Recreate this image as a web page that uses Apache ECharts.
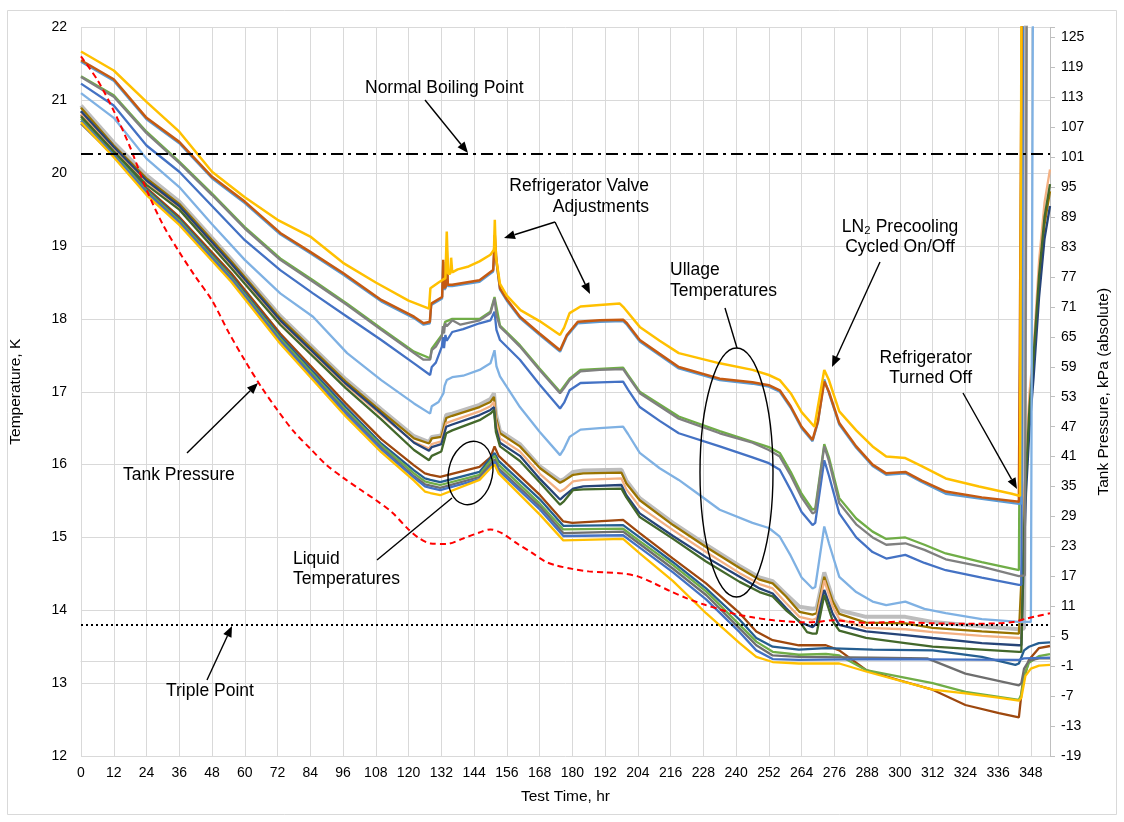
<!DOCTYPE html>
<html>
<head>
<meta charset="utf-8">
<script src="https://cdn.jsdelivr.net/npm/echarts@6/dist/echarts.min.js"></script>
<style>
html,body{margin:0;padding:0;background:#fff;}
#chart{width:1124px;height:822px;}
</style>
</head>
<body>
<div id="chart"></div>
<script>
// ---------------- DATA (hours, K / kPa) ----------------
const xAxisRange = [0, 355];
const tempRange = [12, 22];
const pressRange = [-19, 127];
const normalBoilingPointK = 20.27;
const triplePointK = 13.8;

// Ullage temperatures
const ullYellow = [[0,21.67],[12,21.41],[24,20.98],[36,20.57],[48,20.02],[60,19.67],[72,19.36],[84,19.13],[96,18.77],[108,18.50],[120,18.25],[127.5,18.14],[128,18.42],[131,18.50],[133.5,18.56],[134,19.20],[134.5,18.62],[135.3,18.62],[135.6,18.84],[136,18.64],[138,18.68],[142,18.72],[146,18.79],[150,18.88],[151.3,18.95],[151.6,19.36],[152,18.85],[153.5,18.48],[156,18.32],[161,18.12],[168,17.97],[175.5,17.78],[177,17.88],[179,18.08],[183,18.17],[190,18.19],[197.4,18.21],[199,18.15],[204.7,17.89],[212,17.70],[219,17.53],[234,17.39],[246,17.30],[252,17.23],[256,17.16],[260,16.98],[264,16.72],[268.7,16.52],[270,16.8],[272.3,17.30],[274,17.16],[277.8,16.73],[284,16.47],[290,16.25],[295,16.11],[302,16.09],[308,15.98],[316.8,15.81],[329,15.70],[341,15.60],[344,15.57],[344.6,23]];
const ullOrange = [[0,21.55],[12,21.29],[24,20.76],[36,20.43],[40,20.27],[48,19.95],[60,19.61],[73,19.18],[84,18.92],[96,18.63],[110,18.26],[122,18.03],[125.5,17.94],[127.8,17.96],[128.3,18.21],[132.3,18.30],[132.7,18.81],[133.1,18.42],[133.7,18.45],[134,18.95],[134.4,18.47],[136,18.47],[146,18.53],[151,18.67],[151.6,19.15],[152.2,18.80],[153.5,18.42],[156,18.27],[160.8,18.03],[168,17.80],[175.5,17.57],[178,17.78],[182,17.96],[190,17.98],[198.6,17.99],[200,17.94],[204.7,17.71],[212,17.52],[219,17.34],[234,17.18],[246,17.13],[252,17.09],[256,17.02],[260,16.80],[264,16.52],[268,16.34],[270,16.60],[272.3,17.14],[274,17.00],[277.8,16.57],[284,16.25],[290,16.00],[295,15.88],[302,15.90],[308,15.78],[316.8,15.63],[330,15.55],[343.6,15.49],[344.3,15.49],[344.8,23]];
const ullBlue2 = [[0,21.53],[12,21.27],[24,20.74],[36,20.41],[40,20.25],[48,19.93],[60,19.59],[73,19.16],[84,18.90],[96,18.61],[110,18.24],[122,18.01],[125.5,17.92],[127.8,17.94],[128.3,18.19],[132.3,18.28],[132.7,18.78],[133.1,18.40],[133.7,18.43],[134,18.90],[134.4,18.45],[136,18.45],[146,18.51],[151,18.65],[151.6,19.05],[152.2,18.78],[153.5,18.40],[156,18.25],[160.8,18.01],[168,17.78],[175.5,17.55],[178,17.76],[182,17.94],[190,17.96],[198.6,17.97],[200,17.92],[204.7,17.69],[212,17.50],[219,17.32],[234,17.16],[246,17.11],[252,17.07],[256,17.00],[260,16.78],[264,16.50],[268,16.32],[270,16.58],[272.3,17.17],[274,16.98],[277.8,16.55],[284,16.23],[290,15.98],[295,15.86],[302,15.88],[308,15.76],[316.8,15.60],[330,15.53],[343.6,15.46],[344.4,15.46],[344.9,23]];
const ullGreen = [[0,21.33],[12,21.07],[24,20.57],[36,20.16],[48,19.72],[60,19.26],[73,18.83],[85,18.53],[97.5,18.21],[110,17.87],[122,17.55],[127.9,17.46],[128.5,17.59],[132.2,17.78],[133.4,17.96],[136,18.00],[146,18.00],[150,18.10],[151.5,18.30],[153.5,17.91],[160.8,17.64],[168,17.32],[175.5,17.00],[179,17.18],[183,17.30],[198.6,17.33],[200.4,17.23],[204.7,17.00],[219,16.66],[234,16.46],[252,16.24],[256,16.16],[260,15.90],[264,15.60],[268,15.38],[269,15.40],[272.3,16.28],[274,16.10],[277.8,15.54],[284,15.26],[290,15.08],[295,14.98],[302,15.00],[309,14.90],[316.8,14.78],[330,14.66],[343.6,14.55],[344.3,14.56],[344.9,23]];
const ullGray = [[0,21.32],[12,21.05],[24,20.55],[36,20.14],[48,19.70],[60,19.24],[73,18.81],[85,18.51],[97.5,18.19],[110,17.85],[122,17.53],[125.5,17.44],[127.9,17.44],[128.5,17.57],[130,17.62],[132.2,17.76],[132.6,17.90],[133,17.80],[133.4,17.94],[134,17.90],[136,17.98],[139,17.92],[146,17.98],[150,18.08],[151.5,18.28],[152.2,18.05],[153.5,17.89],[156,17.80],[160.8,17.62],[168,17.30],[175.5,16.98],[177,17.05],[179,17.16],[183,17.28],[190,17.30],[198.6,17.31],[200.4,17.21],[204.7,16.98],[212,16.80],[219,16.63],[234,16.43],[246,16.30],[252,16.20],[256,16.11],[260,15.85],[264,15.55],[268,15.33],[269,15.35],[272.3,16.25],[274,16.05],[277.8,15.47],[284,15.18],[290,15.00],[295,14.90],[302,14.92],[309,14.83],[316.8,14.70],[330,14.60],[343.6,14.47],[345.8,14.48],[346.5,23]];
const ullBlue = [[0,21.23],[12,20.93],[24,20.38],[36,20.02],[48,19.55],[60,19.08],[73,18.67],[85,18.35],[97.5,18.03],[110,17.71],[122,17.39],[127.9,17.23],[128.5,17.34],[130,17.40],[132.2,17.62],[132.6,17.75],[133,17.60],[133.5,17.78],[134,17.70],[136,17.82],[140,17.86],[146,17.94],[150,17.98],[151.5,18.10],[152.2,17.85],[153.5,17.71],[160.8,17.44],[168,17.10],[175.5,16.77],[177,16.85],[179,17.02],[183,17.12],[190,17.13],[198.6,17.14],[200.4,17.03],[204.7,16.79],[212,16.60],[219,16.43],[234,16.25],[246,16.10],[252,16.02],[256,15.93],[260,15.65],[264,15.35],[268,15.17],[269,15.20],[272.3,16.06],[274,15.85],[277.8,15.33],[284,15.00],[290,14.80],[295,14.71],[302,14.76],[309,14.65],[316.8,14.55],[330,14.45],[343.6,14.35],[344.5,14.35],[345.2,23]];
const ullLtBlue = [[0,21.10],[12,20.76],[24,20.20],[36,19.81],[48,19.30],[60,18.81],[73,18.35],[85,18.03],[97.5,17.53],[110,17.16],[122,16.84],[127.9,16.70],[128.5,16.80],[131,16.86],[132.8,16.98],[133.2,17.08],[134,17.16],[136,17.20],[140,17.22],[146,17.30],[150,17.39],[151.5,17.57],[152.2,17.35],[153.5,17.21],[160.8,16.79],[168,16.45],[175.5,16.13],[177,16.22],[179,16.38],[183,16.48],[190,16.50],[198.6,16.52],[200.4,16.42],[204.7,16.16],[212,15.95],[219,15.79],[226,15.60],[234,15.38],[246,15.20],[252,15.13],[256,15.01],[260,14.75],[264,14.45],[268,14.30],[269,14.32],[272.3,15.15],[274,14.92],[277.8,14.46],[284,14.25],[290,14.12],[295,14.07],[302,14.12],[309,14.02],[316.8,13.96],[330,13.88],[343.6,13.84],[348,13.84],[348.8,23]];

// Liquid temperatures - upper group
const liqLtGray = [[0,20.93],[12,20.42],[24,19.97],[36,19.61],[55,18.82],[73,18.04],[97,17.17],[110,16.76],[122,16.39],[127.5,16.31],[128.5,16.38],[132,16.40],[133.8,16.68],[136,16.70],[146,16.82],[150,16.90],[151.3,16.98],[152,16.70],[153.5,16.46],[160.8,16.28],[168,15.98],[175.5,15.78],[177,15.80],[180.3,15.90],[184,15.92],[198,15.93],[199.8,15.78],[204.7,15.54],[216.9,15.20],[229,14.90],[241.3,14.61],[248.6,14.45],[253.4,14.40],[258.3,14.22],[263.2,14.05],[268,14.02],[269.5,14.03],[272.3,14.52],[275.4,14.16],[277.8,14.00],[287.6,13.91],[302,13.91],[312,13.84],[330,13.78],[343.6,13.74],[345.5,13.75],[346.3,23]];
const liqOlive = [[0,20.90],[12,20.38],[24,19.93],[36,19.58],[55,18.79],[73,18.01],[97,17.14],[110,16.73],[122,16.36],[127.5,16.29],[128.5,16.36],[132,16.38],[133.8,16.64],[136,16.67],[146,16.79],[150,16.86],[151.3,16.93],[152,16.65],[153.5,16.43],[160.8,16.25],[168.2,15.95],[175.5,15.75],[177,15.78],[180.3,15.86],[184,15.88],[198,15.89],[199.8,15.74],[204.7,15.51],[216.9,15.17],[229,14.87],[241.3,14.58],[248.6,14.42],[253.4,14.37],[258.3,14.19],[263.2,13.98],[268,13.94],[269.5,13.96],[272.3,14.46],[275.4,14.12],[277.8,13.95],[287.6,13.83],[302,13.82],[312,13.76],[330,13.71],[343.6,13.68],[344.3,13.68],[345,14.8],[346,15.9],[347.5,16.8],[349,17.5],[351,18.5],[353,19.3],[355,19.75]];
const liqLtOrange = [[0,20.82],[12,20.33],[24,19.88],[36,19.52],[55,18.74],[73,17.96],[97,17.09],[110,16.68],[122,16.31],[127.5,16.22],[128.5,16.28],[132,16.32],[133.8,16.57],[136,16.60],[146,16.73],[150,16.80],[151.3,16.86],[152,16.60],[153.5,16.36],[160.8,16.18],[168.2,15.87],[175.5,15.63],[177,15.66],[180.3,15.77],[184,15.79],[198,15.81],[199.8,15.66],[204.7,15.42],[216.9,15.10],[229,14.80],[241.3,14.51],[248.6,14.36],[253.4,14.30],[258.3,14.10],[263.2,13.91],[268,13.87],[269.5,13.89],[272.3,14.41],[275.4,14.05],[277.8,13.88],[287.6,13.76],[302,13.74],[312,13.70],[330,13.65],[343.6,13.62],[344.5,13.62],[345.2,14.9],[346,15.9],[347.5,17.0],[349,17.6],[351,18.8],[353,19.6],[355,20.05]];
const liqDkBlueA = [[0,20.85],[12,20.36],[24,19.90],[36,19.55],[55,18.76],[73,17.98],[97,17.11],[110,16.70],[122,16.30],[127.5,16.19],[128.5,16.24],[132,16.28],[133.8,16.52],[136,16.55],[146,16.68],[150,16.75],[151.3,16.79],[152,16.50],[153.5,16.30],[160.8,16.12],[168.2,15.80],[175.5,15.52],[177,15.57],[180.3,15.67],[184,15.70],[198,15.72],[199.8,15.58],[204.7,15.33],[216.9,15.02],[229,14.73],[241.3,14.46],[248.6,14.30],[253.4,14.23],[258.3,14.03],[263.2,13.84],[268,13.77],[269.5,13.82],[272.3,14.28],[275.4,13.95],[277.8,13.80],[287.6,13.71],[302,13.66],[312,13.62],[330,13.55],[343.6,13.52],[344.5,13.52],[345.3,14.6],[346.2,15.6],[347.5,16.5],[349,17.2],[351,18.3],[353,19.1],[355,19.55]];
const liqDkGreenA = [[0,20.78],[12,20.30],[24,19.84],[36,19.50],[55,18.70],[73,17.92],[97,17.05],[110,16.62],[122,16.20],[127.5,16.06],[128.5,16.12],[132,16.18],[133.8,16.43],[136,16.47],[146,16.61],[150,16.70],[151.3,16.75],[152,16.45],[153.5,16.25],[160.8,16.05],[168.2,15.75],[175.5,15.45],[177,15.50],[180.3,15.65],[184,15.66],[198,15.67],[199.8,15.55],[204.7,15.28],[216.9,14.98],[229,14.67],[241.3,14.39],[248.6,14.25],[253.4,14.19],[258.3,14.00],[263.2,13.85],[266,13.70],[268,13.68],[269.5,13.68],[272.3,14.21],[275.4,13.85],[277.8,13.72],[287.6,13.62],[302,13.55],[312,13.50],[330,13.46],[343.6,13.43],[344.5,13.43],[345.2,14.7],[346,15.7],[347.5,16.8],[349,17.5],[351,18.6],[353,19.4],[355,19.85]];

// Liquid temperatures - lower group
const liqBrown = [[0,20.80],[12,20.30],[24,19.80],[36,19.40],[55,18.63],[73,17.80],[97,16.84],[110,16.35],[122,15.99],[126,15.88],[128,15.86],[131.6,15.83],[146,15.97],[150,16.10],[151.5,16.25],[153,16.12],[168.2,15.58],[176.7,15.22],[180,15.20],[198.6,15.24],[204.7,15.06],[216.9,14.71],[229,14.37],[241.3,13.96],[247.4,13.71],[253.4,13.59],[263,13.52],[272.9,13.52],[277.8,13.45],[287.6,13.18],[299.8,13.04],[312,12.91],[324,12.70],[336.3,12.59],[343.6,12.53],[344.8,12.95],[347.3,13.32],[350.9,13.48],[355,13.51]];
const liqDkBlueB = [[0,20.85],[12,20.30],[24,19.78],[36,19.37],[55,18.59],[73,17.76],[97,16.79],[110,16.29],[122,15.92],[126,15.81],[128,15.79],[131.6,15.76],[146,15.90],[151.5,16.16],[153,16.05],[168.2,15.52],[176.7,15.16],[198.6,15.17],[204.7,15.00],[216.9,14.66],[229,14.30],[241.3,13.87],[247.4,13.62],[253.4,13.50],[263,13.46],[272.9,13.48],[290,13.46],[312,13.45],[330,13.36],[342.3,13.25],[343.6,13.27],[345.5,13.45],[347.3,13.50],[350.9,13.55],[355,13.56]];
const liqGreenB = [[0,20.75],[12,20.27],[24,19.76],[36,19.35],[55,18.57],[73,17.73],[97,16.75],[110,16.26],[122,15.88],[126,15.77],[128,15.75],[131.6,15.72],[146,15.86],[151.5,16.12],[153,16.00],[168.2,15.46],[176.7,15.11],[198.6,15.12],[204.7,14.95],[216.9,14.62],[229,14.26],[241.3,13.80],[247.4,13.57],[253.4,13.43],[263,13.39],[272.9,13.40],[277.8,13.38],[287.6,13.18],[312,13.00],[324,12.88],[343.6,12.77],[344.5,12.85],[345.5,13.10],[347.3,13.28],[350.9,13.37],[355,13.40]];
const liqGrayB = [[0,20.68],[12,20.24],[24,19.74],[36,19.33],[55,18.55],[73,17.70],[97,16.72],[110,16.23],[122,15.84],[126,15.73],[128,15.71],[131.6,15.68],[146,15.83],[151.5,16.07],[153,15.95],[168.2,15.42],[176.7,15.06],[198.6,15.08],[204.7,14.91],[216.9,14.57],[229,14.21],[241.3,13.75],[247.4,13.52],[253.4,13.38],[263,13.36],[290,13.35],[310,13.34],[324,13.13],[343.6,12.97],[344.5,13.00],[345.5,13.20],[347.3,13.31],[351,13.34],[355,13.34]];
const liqBlueB = [[0,20.72],[12,20.25],[24,19.73],[36,19.32],[55,18.54],[73,17.69],[97,16.70],[110,16.21],[122,15.82],[126,15.70],[128,15.68],[131.6,15.65],[146,15.80],[151.5,16.04],[153,15.92],[168.2,15.38],[176.7,15.02],[198.6,15.03],[204.7,14.86],[216.9,14.52],[229,14.15],[241.3,13.70],[247.4,13.45],[253.4,13.33],[263,13.32],[290,13.33],[343.6,13.32],[345.5,13.34],[355,13.35]];
const liqYellowB = [[0,20.70],[12,20.22],[24,19.70],[36,19.29],[55,18.51],[73,17.66],[97,16.66],[110,16.17],[122,15.78],[126,15.63],[128,15.61],[131.6,15.58],[146,15.79],[150.5,15.97],[151.5,16.00],[153,15.88],[168.2,15.31],[176.7,14.96],[198.6,14.98],[204.7,14.78],[216.9,14.40],[229,13.96],[241.3,13.55],[247.4,13.36],[253.4,13.29],[263,13.27],[277.8,13.27],[287.6,13.16],[312,12.91],[324,12.86],[336,12.80],[343.6,12.76],[344.5,12.80],[346,13.10],[348,13.20],[351,13.24],[355,13.25]];

// Tank pressure, kPa (absolute) - right axis
const tankPressure = [[0,121.2],[6,116.5],[12,110.3],[18,103.0],[24,94.5],[30,87.5],[36,82.0],[42,77.0],[48,72.3],[54,66.0],[60,60.3],[66,55.0],[72,50.3],[78,46.0],[84,42.6],[90,39.3],[96,36.8],[102,34.5],[108,32.3],[114,29.8],[120,26.4],[124,24.6],[128,23.6],[134,23.5],[140,24.6],[146,25.8],[150,26.4],[154,25.7],[160,23.5],[165,21.8],[170,20.0],[174,19.2],[180,18.5],[186,18.0],[192,17.8],[198,17.6],[204,17.0],[210,15.6],[216,14.0],[222,12.6],[228,11.4],[234,10.4],[240,9.4],[246,8.8],[252,8.3],[258,8.0],[264,7.8],[270,7.9],[276,8.2],[282,7.9],[288,7.7],[294,7.8],[300,7.9],[306,7.7],[312,7.6],[324,7.5],[336,7.6],[342,7.9],[346,8.5],[350,9.0],[355,9.6]];

// ---------------- CHART ----------------
const FONT = '"Liberation Sans", Arial, sans-serif';
const chart = echarts.init(document.getElementById('chart'), null, {renderer: 'canvas'});

function ln(name, data, color, width, yIdx, extra) {
  return Object.assign({
    type: 'line', name: name, data: data, yAxisIndex: yIdx || 0,
    showSymbol: false, symbol: 'none', animation: false,
    lineStyle: {color: color, width: width}, itemStyle: {color: color},
    emphasis: {disabled: true}
  }, extra || {});
}

function arrow(x1, y1, x2, y2, head) {
  const els = [];
  let ex = x2, ey = y2;
  if (head) {
    const a = Math.atan2(y2 - y1, x2 - x1), L = 11, W = 4.5;
    const bx = x2 - L * Math.cos(a), by = y2 - L * Math.sin(a);
    ex = bx; ey = by;
    els.push({type: 'polygon', z: 100, shape: {points: [[x2, y2], [bx + W * Math.sin(a), by - W * Math.cos(a)], [bx - W * Math.sin(a), by + W * Math.cos(a)]]}, style: {fill: '#000'}});
  }
  els.push({type: 'line', z: 100, shape: {x1: x1, y1: y1, x2: ex, y2: ey}, style: {stroke: '#000', lineWidth: 1.4}});
  return els;
}
function txt(s, x, y, align) {
  return {type: 'text', z: 100, style: {text: s, x: x, y: y, fontSize: 17.5, fontFamily: FONT, fill: '#000',
    textAlign: align || 'left', align: align || 'left', textVerticalAlign: 'middle', verticalAlign: 'middle'}};
}

const graphics = [].concat(
  [{type: 'rect', z: 0, shape: {x: 7.5, y: 10.5, width: 1109, height: 804}, style: {fill: 'none', stroke: '#d9d9d9', lineWidth: 1}}],
  [txt('Normal Boiling Point', 365, 88)], arrow(425, 100, 468, 153, true),
  [txt('Refrigerator Valve', 649, 186, 'right'), txt('Adjustments', 649, 207, 'right')],
  arrow(555, 222, 504, 238, true), arrow(555, 222, 590, 294, true),
  [txt('Ullage', 670, 270), txt('Temperatures', 670, 291)], arrow(725, 308, 737, 348, false),
  [{type: 'ellipse', z: 100, shape: {cx: 736.5, cy: 472.5, rx: 36.5, ry: 124.5}, style: {fill: 'none', stroke: '#000', lineWidth: 1.4}}],
  [txt('LN\u2082 Precooling', 900, 227, 'center'), txt('Cycled On/Off', 900, 247, 'center')], arrow(880, 262, 832, 367, true),
  [txt('Refrigerator', 972, 358, 'right'), txt('Turned Off', 972, 378, 'right')], arrow(963, 393, 1017, 489, true),
  [txt('Tank Pressure', 123, 475)], arrow(187, 453, 258, 383, true),
  [txt('Liquid', 293, 559), txt('Temperatures', 293, 579)], arrow(377, 560, 452, 498, false),
  [{type: 'ellipse', z: 100, x: 470.5, y: 473, rotation: -0.2, shape: {cx: 0, cy: 0, rx: 22, ry: 32}, style: {fill: 'none', stroke: '#000', lineWidth: 1.4}}],
  [txt('Triple Point', 166, 691)], arrow(207, 680, 232, 626, true)
);

const option = {
  backgroundColor: '#fff',
  animation: false,
  textStyle: {fontFamily: FONT},
  grid: {left: 80, right: 74, top: 27.5, bottom: 66, containLabel: false},
  xAxis: {
    type: 'value', min: xAxisRange[0], max: xAxisRange[1], interval: 12,
    name: 'Test Time, hr', nameLocation: 'middle', nameGap: 33,
    nameTextStyle: {fontSize: 15.5, color: '#000', fontFamily: FONT},
    axisLine: {show: true, lineStyle: {color: '#d9d9d9'}},
    axisTick: {show: false},
    axisLabel: {fontSize: 14, color: '#000', margin: 10, showMaxLabel: false, fontFamily: FONT},
    splitLine: {show: true, lineStyle: {color: '#d9d9d9', width: 1}}
  },
  yAxis: [{
    type: 'value', min: tempRange[0], max: tempRange[1], interval: 1, position: 'left',
    name: 'Temperature, K', nameLocation: 'middle', nameGap: 57,
    nameTextStyle: {fontSize: 15.5, color: '#000', fontFamily: FONT},
    axisLine: {show: false}, axisTick: {show: false},
    axisLabel: {fontSize: 14, color: '#000', margin: 14, fontFamily: FONT},
    splitLine: {show: true, lineStyle: {color: '#d9d9d9', width: 1}}
  }, {
    type: 'value', min: pressRange[0], max: pressRange[1], interval: 6, position: 'right',
    name: 'Tank Pressure, kPa (absolute)', nameLocation: 'middle', nameGap: 43, nameRotate: 90,
    nameTextStyle: {fontSize: 15.5, color: '#000', fontFamily: FONT},
    axisLine: {show: true, lineStyle: {color: '#bfbfbf'}},
    axisTick: {show: true, length: 5, lineStyle: {color: '#bfbfbf'}},
    axisLabel: {fontSize: 14, color: '#000', margin: 11, fontFamily: FONT,
      formatter: function (v) { return v > 126 ? '' : String(Math.round(v)); }},
    splitLine: {show: false}
  }],
  graphic: graphics,
  series: [
    ln('Liquid brown', liqBrown, '#9E480E', 2.3),
    ln('Liquid dark blue B', liqDkBlueB, '#255E91', 2.3),
    ln('Liquid green B', liqGreenB, '#70AD47', 2.3),
    ln('Liquid gray B', liqGrayB, '#6E6E6E', 2.3),
    ln('Liquid blue B', liqBlueB, '#4472C4', 2.3),
    ln('Liquid yellow B', liqYellowB, '#FFC000', 2.3),
    ln('Liquid light gray', liqLtGray, '#BDBDBD', 4),
    ln('Liquid olive', liqOlive, '#997300', 2.3),
    ln('Liquid light orange', liqLtOrange, '#F4B183', 2.3),
    ln('Liquid dark blue A', liqDkBlueA, '#264478', 2.3),
    ln('Liquid dark green A', liqDkGreenA, '#43682B', 2.3),
    ln('Ullage light blue', ullLtBlue, '#7FB1E3', 2.3),
    ln('Ullage blue', ullBlue, '#4472C4', 2.3),
    ln('Ullage green', ullGreen, '#70AD47', 2.3),
    ln('Ullage gray', ullGray, '#808080', 2.3),
    ln('Ullage blue 2', ullBlue2, '#5B9BD5', 2.3),
    ln('Ullage orange', ullOrange, '#C55A11', 2.5),
    ln('Ullage yellow', ullYellow, '#FFC000', 2.5),
    ln('Tank Pressure', tankPressure, '#FF0000', 2, 1, {
      lineStyle: {color: '#FF0000', width: 2, type: [6, 4]}, smooth: 0.3, z: 3
    }),
    {
      type: 'line', name: 'refs', data: [], yAxisIndex: 0, z: 4, animation: false,
      markLine: {
        silent: true, symbol: 'none', animation: false, label: {show: false},
        data: [
          {yAxis: normalBoilingPointK, lineStyle: {color: '#000', width: 2, type: [12, 5, 3, 5]}},
          {yAxis: triplePointK, lineStyle: {color: '#000', width: 2, type: [2, 3]}}
        ]
      }
    }
  ]
};
chart.setOption(option);
</script>
</body>
</html>
